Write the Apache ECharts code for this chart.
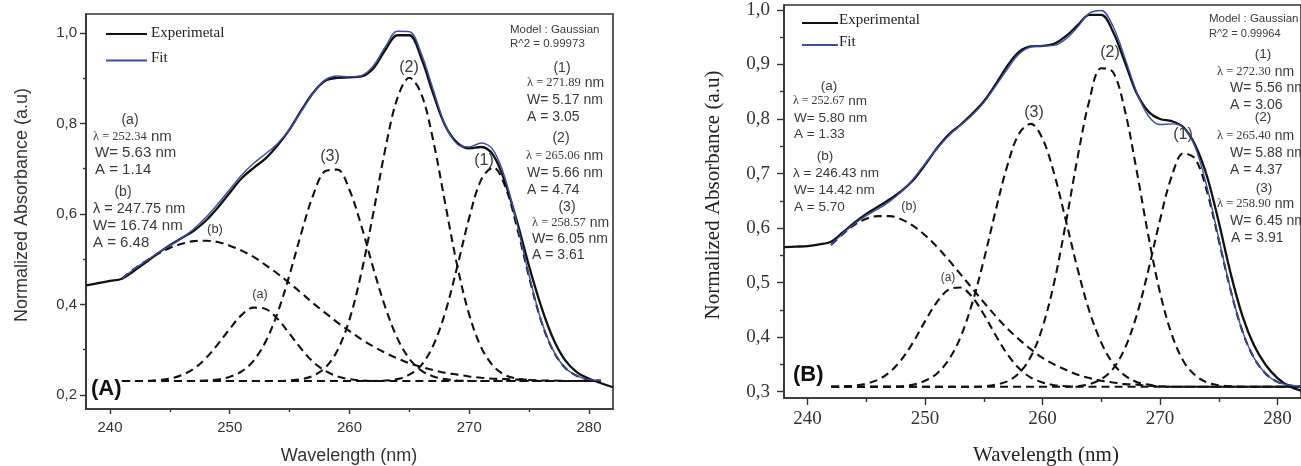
<!DOCTYPE html>
<html><head><meta charset="utf-8">
<script src="https://cdn.jsdelivr.net/npm/echarts@6/dist/echarts.min.js"></script>
<style>html,body{margin:0;padding:0;background:#fff}#c{width:1301px;height:466px}</style>
</head><body><div id="c"></div>
<script>
// ---------------- DATA: panel (A) ----------------
const A_wlExp = [238,239,240,241,242,243,244,245,246,247,248,249,250,251,252,253,254,255,256,257,258,259,260,261,262,263,264,265,266,267,268,269,270,271,272,273,274,275,276,277,278,279,280,281,282];
const A_exp = [0.442,0.447,0.452,0.457,0.474,0.493,0.513,0.531,0.547,0.563,0.585,0.614,0.647,0.679,0.702,0.723,0.752,0.787,0.830,0.869,0.895,0.901,0.902,0.904,0.922,0.963,0.995,0.995,0.944,0.865,0.795,0.757,0.745,0.748,0.730,0.669,0.582,0.484,0.396,0.325,0.277,0.250,0.236,0.226,0.217];
const A_wlFit = [241,242,243,244,245,246,247,248,249,250,251,252,253,254,255,256,257,258,259,260,261,262,263,264,265,266,267,268,269,270,271,272,273,274,275,276,277,278,279,280,281];
const A_fit = [0.457,0.478,0.496,0.514,0.530,0.547,0.567,0.592,0.622,0.654,0.686,0.712,0.733,0.756,0.787,0.828,0.868,0.897,0.905,0.903,0.906,0.928,0.970,1.004,1.003,0.954,0.874,0.796,0.754,0.748,0.757,0.741,0.678,0.577,0.464,0.365,0.299,0.260,0.242,0.234,0.232];
const A_peakB = [0.457,0.478,0.496,0.512,0.525,0.534,0.540,0.541,0.538,0.530,0.519,0.505,0.487,0.468,0.447,0.425,0.402,0.381,0.360,0.341,0.323,0.307,0.293,0.281,0.270,0.262,0.255,0.249,0.245,0.241,0.238,0.236,0.235,0.234,0.233,0.232,0.232,0.231,0.231,0.231,0.231];
const A_peakA = [0.231,0.231,0.231,0.233,0.236,0.244,0.258,0.281,0.312,0.346,0.377,0.393,0.390,0.368,0.335,0.301,0.272,0.253,0.241,0.235,0.232,0.231,0.231,0.231,0.231,0.231,0.231,0.231,0.231,0.231,0.231,0.231,0.231,0.231,0.231,0.231,0.231,0.231,0.231,0.231,0.231];
const A_peak3 = [0.231,0.231,0.231,0.231,0.231,0.231,0.231,0.232,0.234,0.240,0.252,0.276,0.318,0.382,0.466,0.560,0.644,0.695,0.698,0.653,0.573,0.479,0.393,0.325,0.280,0.254,0.241,0.235,0.232,0.231,0.231,0.231,0.231,0.231,0.231,0.231,0.231,0.231,0.231,0.231,0.231];
const A_peak2 = [0.231,0.231,0.231,0.231,0.231,0.231,0.231,0.231,0.231,0.231,0.231,0.231,0.231,0.231,0.232,0.235,0.243,0.261,0.299,0.367,0.471,0.604,0.745,0.856,0.901,0.865,0.761,0.622,0.485,0.377,0.305,0.264,0.244,0.236,0.233,0.231,0.231,0.231,0.231,0.231,0.231];
const A_peak1 = [0.231,0.231,0.231,0.231,0.231,0.231,0.231,0.231,0.231,0.231,0.231,0.231,0.231,0.231,0.231,0.231,0.231,0.231,0.231,0.231,0.231,0.231,0.232,0.235,0.245,0.266,0.310,0.383,0.484,0.592,0.676,0.703,0.661,0.569,0.460,0.364,0.298,0.260,0.242,0.234,0.232];

// ---------------- DATA: panel (B) ----------------
const B_wlExp = [238,239,240,241,242,243,244,245,246,247,248,249,250,251,252,253,254,255,256,257,258,259,260,261,262,263,264,265,266,267,268,269,270,271,272,273,274,275,276,277,278,279,280,281,282];
const B_exp = [0.565,0.566,0.567,0.570,0.575,0.592,0.610,0.626,0.639,0.653,0.668,0.688,0.716,0.746,0.771,0.789,0.809,0.832,0.863,0.897,0.923,0.933,0.934,0.938,0.952,0.972,0.991,0.991,0.960,0.905,0.848,0.814,0.800,0.796,0.785,0.752,0.695,0.611,0.518,0.440,0.385,0.349,0.325,0.310,0.302];
const B_wlFit = [242,243,244,245,246,247,248,249,250,251,252,253,254,255,256,257,258,259,260,261,262,263,264,265,266,267,268,269,270,271,272,273,274,275,276,277,278,279,280,281,282];
const B_fit = [0.569,0.590,0.608,0.623,0.635,0.649,0.667,0.690,0.718,0.745,0.769,0.788,0.807,0.830,0.860,0.891,0.919,0.932,0.934,0.935,0.947,0.969,0.994,0.999,0.970,0.913,0.850,0.806,0.790,0.791,0.784,0.748,0.675,0.581,0.488,0.412,0.362,0.333,0.318,0.312,0.310];
const B_peakB = [0.569,0.589,0.606,0.617,0.622,0.622,0.616,0.604,0.587,0.566,0.542,0.516,0.490,0.464,0.439,0.416,0.396,0.378,0.362,0.350,0.340,0.331,0.325,0.320,0.317,0.314,0.313,0.311,0.310,0.309,0.309,0.309,0.309,0.309,0.309,0.309,0.309,0.309,0.309,0.309,0.309];
const B_peakA = [0.309,0.310,0.311,0.315,0.322,0.336,0.359,0.391,0.429,0.464,0.487,0.491,0.474,0.442,0.404,0.369,0.343,0.326,0.317,0.312,0.310,0.309,0.309,0.309,0.309,0.309,0.309,0.309,0.309,0.309,0.309,0.309,0.309,0.309,0.309,0.309,0.309,0.309,0.309,0.309,0.309];
const B_peak3 = [0.309,0.309,0.309,0.309,0.309,0.309,0.310,0.313,0.320,0.333,0.358,0.399,0.461,0.541,0.631,0.714,0.773,0.791,0.764,0.699,0.613,0.524,0.447,0.390,0.352,0.330,0.318,0.313,0.310,0.309,0.309,0.309,0.309,0.309,0.309,0.309,0.309,0.309,0.309,0.309,0.309];
const B_peak2 = [0.309,0.309,0.309,0.309,0.309,0.309,0.309,0.309,0.309,0.309,0.309,0.309,0.309,0.310,0.313,0.319,0.334,0.364,0.418,0.501,0.611,0.731,0.835,0.893,0.886,0.817,0.707,0.587,0.482,0.405,0.356,0.330,0.317,0.312,0.310,0.309,0.309,0.309,0.309,0.309,0.309];
const B_peak1 = [0.309,0.309,0.309,0.309,0.309,0.309,0.309,0.309,0.309,0.309,0.309,0.309,0.309,0.309,0.309,0.309,0.309,0.309,0.309,0.309,0.309,0.310,0.314,0.323,0.342,0.379,0.439,0.522,0.615,0.695,0.737,0.727,0.667,0.578,0.487,0.412,0.362,0.333,0.318,0.312,0.310];

// ---------------- ticks ----------------
const X_labels = [240,250,260,270,280];
const X_minor = [245,255,265,275];
const A_yLabels = [0.2,0.4,0.6,0.8,1.0];
const A_yMinor = [0.3,0.5,0.7,0.9];
const B_yLabels = [0.3,0.4,0.5,0.6,0.7,0.8,0.9,1.0];
const B_yMinor = [0.35,0.45,0.55,0.65,0.75,0.85,0.95];

// ---------------- rendering ----------------
const SANS = '"Liberation Sans", Arial, sans-serif';
const SERIF = '"Liberation Serif", "Times New Roman", serif';
const C = '#3a3a3a';
const AX = '#333';
const chart = echarts.init(document.getElementById('c'), null, {renderer: 'canvas'});

function pairs(xs, ys) { return xs.map((x, i) => [x, ys[i]]); }
function ser(name, xs, ys, xi, yi, ls, z) {
  return {name, type: 'line', xAxisIndex: xi, yAxisIndex: yi, data: pairs(xs, ys), symbol: 'none',
    smooth: 0.35, lineStyle: ls, z, silent: true, animation: false};
}
const EXP = {color: '#111', width: 2.3};
const FIT = {color: '#3b4ea3', width: 1.4};
const DASH = {color: '#111', width: 2.1, type: [8, 5]};

function xMaj(g, fam, fs, margin, tl) {
  return {gridIndex: g, type: 'value', position: 'bottom', min: 238, max: 282,
    axisLine: {show: true, onZero: false, lineStyle: {color: AX, width: 1.6}},
    axisTick: {show: true, inside: false, length: tl, customValues: X_labels, lineStyle: {color: AX, width: 1.4}},
    axisLabel: {show: true, customValues: X_labels, margin, color: '#333', fontFamily: fam, fontSize: fs},
    splitLine: {show: false}};
}
function xMin(g, tl) {
  return {gridIndex: g, type: 'value', position: 'bottom', min: 238, max: 282,
    axisLine: {show: false}, axisLabel: {show: false},
    axisTick: {show: true, inside: false, length: tl, customValues: X_minor, lineStyle: {color: AX, width: 1.4}},
    splitLine: {show: false}};
}
function yMaj(g, min, max, vals, fam, fs, margin, tl) {
  return {gridIndex: g, type: 'value', position: 'left', min, max,
    axisLine: {show: true, onZero: false, lineStyle: {color: AX, width: 1.6}},
    axisTick: {show: true, inside: false, length: tl, customValues: vals, lineStyle: {color: AX, width: 1.4}},
    axisLabel: {show: true, customValues: vals, margin, color: '#333', fontFamily: fam, fontSize: fs,
      formatter: v => v.toFixed(1).replace('.', ',')},
    splitLine: {show: false}};
}
function yMin(g, min, max, vals, tl) {
  return {gridIndex: g, type: 'value', position: 'left', min, max,
    axisLine: {show: false}, axisLabel: {show: false},
    axisTick: {show: true, inside: false, length: tl, customValues: vals, lineStyle: {color: AX, width: 1.4}},
    splitLine: {show: false}};
}

function T(x, y, text, size, o) {
  o = o || {};
  const fam = o.family || SANS;
  const al = o.align || 'left';
  return {type: 'text', x, y, rotation: o.rot || 0, silent: true, z: 100,
    style: {text, fill: o.color || C, font: (o.bold ? 'bold ' : '') + size + 'px ' + fam,
      textAlign: al, textVerticalAlign: 'middle', align: al, verticalAlign: 'middle'}};
}
function R(x, y, num, nsz, usz) {
  return {type: 'text', x, y, silent: true, z: 100,
    style: {text: '{s|' + num + '} {u|nm}', fill: C, font: usz + 'px ' + SANS,
      textAlign: 'left', textVerticalAlign: 'middle', align: 'left', verticalAlign: 'middle',
      rich: {s: {fontFamily: SERIF, fontSize: nsz, fill: C}, u: {fontFamily: SANS, fontSize: usz, fill: C}}}};
}
function L(x1, y1, x2, y2, color, w) {
  return {type: 'line', silent: true, z: 100, shape: {x1, y1, x2, y2}, style: {stroke: color, lineWidth: w}};
}

const graphics = [
  // ---- panel A ----
  T(22, 205, 'Normalized Absorbance (a.u)', 18, {align: 'center', rot: Math.PI / 2, color: '#333'}),
  T(349, 456, 'Wavelength (nm)', 18, {align: 'center', color: '#333'}),
  L(106, 34, 147, 34, '#111', 2.2), T(151, 33, 'Experimetal', 15, {family: SERIF, color: '#222'}),
  L(106, 60.5, 147, 60.5, '#3b4ea3', 1.8), T(151, 58, 'Fit', 15, {family: SERIF, color: '#222'}),
  T(130, 120, '(a)', 14, {align: 'center'}),
  R(93, 137, 'λ = 252.34', 12.5, 15),
  T(95, 153, 'W= 5.63 nm', 15), T(95, 170, 'A = 1.14', 15),
  T(123, 192, '(b)', 14, {align: 'center'}),
  T(93, 209, 'λ = 247.75 nm', 14.5),
  T(93, 226, 'W= 16.74 nm', 15), T(93, 243, 'A = 6.48', 15),
  T(215, 229, '(b)', 13, {align: 'center'}), T(260, 295, '(a)', 12.5, {align: 'center'}),
  T(330, 157, '(3)', 16, {align: 'center'}), T(409, 68, '(2)', 16, {align: 'center'}),
  T(484, 161, '(1)', 16, {align: 'center'}),
  T(510, 30, 'Model : Gaussian', 11.5), T(510, 44, 'R^2 = 0.99973', 11.5),
  T(562, 68, '(1)', 14, {align: 'center'}), R(527, 83, 'λ = 271.89', 12.5, 14),
  T(527, 100, 'W= 5.17 nm', 14), T(527, 117, 'A = 3.05', 14),
  T(561, 138, '(2)', 14, {align: 'center'}), R(526, 156, 'λ = 265.06', 12.5, 14),
  T(527, 173, 'W= 5.66 nm', 14), T(527, 190, 'A = 4.74', 14),
  T(567, 207, '(3)', 14, {align: 'center'}), R(532, 223, 'λ = 258.57', 12.5, 14),
  T(532, 239, 'W= 6.05 nm', 14), T(532, 255, 'A = 3.61', 14),
  T(91, 389, '(A)', 22, {bold: true, color: '#111'}),
  // ---- panel B ----
  T(713, 195, 'Normalized Absorbance (a.u)', 21, {align: 'center', rot: Math.PI / 2, family: SERIF, color: '#222'}),
  T(1046, 455, 'Wavelength (nm)', 21, {align: 'center', family: SERIF, color: '#222'}),
  L(802, 23, 838, 23, '#111', 2.2), T(839, 20, 'Experimental', 15, {family: SERIF, color: '#222'}),
  L(802, 45, 838, 45, '#3b4ea3', 1.8), T(839, 42, 'Fit', 15, {family: SERIF, color: '#222'}),
  T(829, 86, '(a)', 13.5, {align: 'center'}),
  R(793, 101, 'λ = 252.67', 12, 13.5),
  T(794, 118, 'W= 5.80 nm', 13.5), T(794, 134, 'A = 1.33', 13.5),
  T(825, 156, '(b)', 13.5, {align: 'center'}),
  T(793, 173, 'λ = 246.43 nm', 13.5),
  T(794, 190, 'W= 14.42 nm', 13.5), T(794, 207, 'A = 5.70', 13.5),
  T(909, 207, '(b)', 12.5, {align: 'center'}), T(948, 278, '(a)', 12, {align: 'center'}),
  T(1034, 113, '(3)', 16, {align: 'center'}), T(1110, 53, '(2)', 16, {align: 'center'}),
  T(1183, 135, '(1)', 16, {align: 'center'}),
  T(1209, 19, 'Model : Gaussian', 11.5), T(1209, 34, 'R^2 = 0.99964', 11),
  T(1263, 54, '(1)', 13.5, {align: 'center'}), R(1217, 72, 'λ = 272.30', 12.5, 14),
  T(1230, 88, 'W= 5.56 nm', 14), T(1230, 105, 'A = 3.06', 14),
  T(1263, 117, '(2)', 13.5, {align: 'center'}), R(1217, 136, 'λ = 265.40', 12.5, 14),
  T(1230, 153, 'W= 5.88 nm', 14), T(1230, 170, 'A = 4.37', 14),
  T(1264, 188, '(3)', 13.5, {align: 'center'}), R(1217, 204, 'λ = 258.90', 12.5, 14),
  T(1230, 221, 'W= 6.45 nm', 14), T(1231, 238, 'A = 3.91', 14),
  T(793, 375, '(B)', 22, {bold: true, color: '#111'})
];

const option = {
  animation: false,
  backgroundColor: '#fff',
  grid: [
    {left: 86, top: 14, width: 527, height: 395, show: true, borderColor: AX, borderWidth: 1.6, containLabel: false},
    {left: 784, top: 5, width: 525, height: 393, show: true, borderColor: AX, borderWidth: 1.6, containLabel: false}
  ],
  xAxis: [xMaj(0, SANS, 15, 11, 5), xMin(0, 3), xMaj(1, SERIF, 19, 12, 7), xMin(1, 4)],
  yAxis: [
    yMaj(0, 0.169, 1.042, A_yLabels, SANS, 15, 9, 6), yMin(0, 0.169, 1.042, A_yMinor, 3),
    yMaj(1, 0.2885, 1.009, B_yLabels, SERIF, 19, 14, 7), yMin(1, 0.2885, 1.009, B_yMinor, 4)
  ],
  series: [
    ser('A (b)', A_wlFit, A_peakB, 0, 0, DASH, 2),
    ser('A (a)', A_wlFit, A_peakA, 0, 0, DASH, 2),
    ser('A (3)', A_wlFit, A_peak3, 0, 0, DASH, 2),
    ser('A (2)', A_wlFit, A_peak2, 0, 0, DASH, 2),
    ser('A (1)', A_wlFit, A_peak1, 0, 0, DASH, 2),
    ser('A Experimetal', A_wlExp, A_exp, 0, 0, EXP, 3),
    ser('A Fit', A_wlFit, A_fit, 0, 0, FIT, 4),
    ser('B (b)', B_wlFit, B_peakB, 2, 2, DASH, 2),
    ser('B (a)', B_wlFit, B_peakA, 2, 2, DASH, 2),
    ser('B (3)', B_wlFit, B_peak3, 2, 2, DASH, 2),
    ser('B (2)', B_wlFit, B_peak2, 2, 2, DASH, 2),
    ser('B (1)', B_wlFit, B_peak1, 2, 2, DASH, 2),
    ser('B Experimental', B_wlExp, B_exp, 2, 2, EXP, 3),
    ser('B Fit', B_wlFit, B_fit, 2, 2, FIT, 4)
  ],
  graphic: graphics
};
chart.setOption(option);
</script></body></html>
